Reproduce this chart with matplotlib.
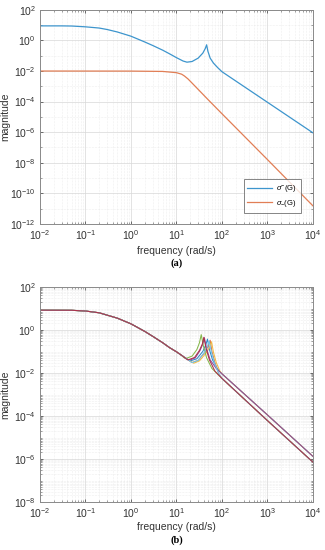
import math
import matplotlib
matplotlib.use("Agg")
import matplotlib.pyplot as plt
from matplotlib.ticker import LogLocator, NullFormatter

plt.rcParams['font.family'] = ['Liberation Sans', 'DejaVu Sans']
plt.rcParams['mathtext.fontset'] = 'custom'
plt.rcParams['mathtext.rm'] = 'Liberation Sans'
plt.rcParams['mathtext.it'] = 'Liberation Sans:italic'

# (a) singular values
freq_max = [0.01, 0.03, 0.05, 0.1, 0.2, 0.3, 0.5, 1, 2, 3, 5, 7, 10, 14, 17, 22,
            30, 38, 43, 46, 49, 55, 65, 80, 100, 1000, 10000]
sig_max = [9.0, 9.0, 8.8, 7.8, 6.5, 5.2, 3.6, 1.9, 0.8, 0.47, 0.23, 0.135, 0.075,
           0.045, 0.038, 0.042, 0.07, 0.15, 0.3, 0.52, 0.2, 0.07, 0.033, 0.017,
           0.009, 9e-5, 9e-7]

freq_min = [0.01, 1, 5, 10, 13, 15, 18, 25, 50, 100, 1000, 10000]
sig_min = [0.01, 0.0099, 0.0094, 0.0078, 0.0062, 0.0047, 0.003, 0.0011, 1.3e-4,
           1.6e-5, 1.6e-8, 1.5e-11]

# (b) maximum singular value for several cases
freq_low = [0.01, 0.05, 0.1, 0.2, 0.5, 1, 2, 3, 5, 7, 10, 13]
mag_low = [8.2, 8.1, 7.5, 6.2, 3.5, 1.9, 0.85, 0.5, 0.25, 0.15, 0.095, 0.065]

freq_blue = [17, 20, 28, 38, 44, 48, 53, 62, 80, 100, 1000, 10000]
mag_blue = [0.045, 0.036, 0.045, 0.1, 0.2, 0.37, 0.12, 0.04, 0.015, 0.009, 1.1e-4, 1.3e-6]
freq_orange = [17, 22, 30, 42, 50, 55, 60, 70, 85, 100, 1000, 10000]
mag_orange = [0.044, 0.03, 0.038, 0.09, 0.18, 0.33, 0.1, 0.03, 0.009, 0.0055, 6e-5, 7e-7]
freq_yellow = [17, 24, 32, 45, 54, 59, 65, 75, 90, 100, 1000, 10000]
mag_yellow = [0.044, 0.028, 0.036, 0.085, 0.16, 0.28, 0.09, 0.03, 0.012, 0.009, 1.1e-4, 1.3e-6]
freq_purple = [16, 19, 26, 33, 38, 41, 46, 55, 75, 100, 1000, 10000]
mag_purple = [0.046, 0.038, 0.05, 0.11, 0.22, 0.43, 0.13, 0.04, 0.016, 0.009, 1.1e-4, 1.3e-6]
freq_green = [14, 16, 22, 28, 32, 35, 39, 46, 60, 100, 1000, 10000]
mag_green = [0.055, 0.046, 0.06, 0.12, 0.25, 0.6, 0.18, 0.05, 0.016, 0.0055, 6e-5, 7e-7]
freq_cyan = [17, 22, 30, 41, 48, 52, 58, 68, 85, 100, 1000, 10000]
mag_cyan = [0.044, 0.03, 0.038, 0.09, 0.17, 0.3, 0.1, 0.03, 0.009, 0.0055, 6e-5, 7e-7]
freq_red = [16, 18, 25, 32, 37, 40, 45, 53, 70, 100, 1000, 10000]
mag_red = [0.047, 0.04, 0.052, 0.11, 0.22, 0.45, 0.13, 0.04, 0.012, 0.0055, 6e-5, 7e-7]

curves_b = [
    (freq_blue, mag_blue, '#2f86c4'),
    (freq_orange, mag_orange, '#df7045'),
    (freq_yellow, mag_yellow, '#efbc45'),
    (freq_purple, mag_purple, '#8c4a9b'),
    (freq_green, mag_green, '#86b84c'),
    (freq_cyan, mag_cyan, '#6cc8f0'),
    (freq_red, mag_red, '#ad3048'),
]

tick_col = '#555555'


def style_axes(ax, ymin, ymax, ystep, yminor_subs, xpad=3):
    ax.set_xscale('log')
    ax.set_yscale('log')
    ax.set_xlim(1e-2, 1e4)
    ax.set_ylim(ymin, ymax)
    ax.set_xticks([10.0 ** k for k in range(-2, 5)])
    lo = int(round(math.log10(ymin)))
    hi = int(round(math.log10(ymax)))
    ax.set_yticks([10.0 ** k for k in range(lo, hi + 1, ystep)])
    ax.xaxis.set_minor_locator(LogLocator(base=10, subs=range(2, 10), numticks=50))
    ax.yaxis.set_minor_locator(LogLocator(base=10, subs=yminor_subs, numticks=50))
    ax.xaxis.set_minor_formatter(NullFormatter())
    ax.yaxis.set_minor_formatter(NullFormatter())
    ax.tick_params(which='both', direction='in', top=True, right=True,
                   labelsize=7.5, colors=tick_col, labelcolor='#333333')
    ax.tick_params(which='major', length=2.5, width=0.6, pad=3)
    ax.tick_params(which='minor', length=1.2, width=0.4)
    ax.grid(True, which='major', color='#d8d8d8', lw=0.5)
    ax.grid(True, which='minor', color='#e0e0e0', lw=0.4, ls=':')
    ax.set_axisbelow(True)
    for s in ax.spines.values():
        s.set_color('#8a8a8a')
        s.set_linewidth(0.7)
    ax.set_xlabel('frequency (rad/s)', fontsize=7.5, color='#333333', labelpad=xpad)
    ax.set_ylabel('magnitude', fontsize=7.5, color='#333333')
    ax.yaxis.set_label_coords(-0.11, 0.5)


fig = plt.figure(figsize=(3.25, 5.5), dpi=100)

ax1 = fig.add_axes([0.123, 0.593, 0.840, 0.389])
ax1.plot(freq_max, sig_max, color='#3d95cd', lw=0.9, label=r'$\sigma^{-}$(G)')
ax1.plot(freq_min, sig_min, color='#e17e55', lw=0.9, label=r'$\sigma_{-}$(G)')
style_axes(ax1, 1e-12, 1e2, 2, [1.0])
leg = ax1.legend(loc='lower right', fontsize=5.5, frameon=True, fancybox=False,
                 handlelength=3.2, borderpad=0.5, labelspacing=0.45, handletextpad=0.6,
                 bbox_to_anchor=(0.97, 0.035))
leg.get_frame().set_edgecolor('#666666')
leg.get_frame().set_linewidth(0.7)
fig.text(0.544, 0.521, '(a)', ha='center', va='center', fontsize=7.5,
         fontweight='bold', family='Liberation Serif')

ax2 = fig.add_axes([0.123, 0.0875, 0.840, 0.391])
for fr, mg, col in curves_b:
    ax2.plot(freq_low + fr, mag_low + mg, color=col, lw=0.75)
style_axes(ax2, 1e-8, 1e2, 2, range(2, 10), xpad=1.5)
fig.text(0.544, 0.017, '(b)', ha='center', va='center', fontsize=7.5,
         fontweight='bold', family='Liberation Serif')

fig.savefig('out.png', dpi=100)
